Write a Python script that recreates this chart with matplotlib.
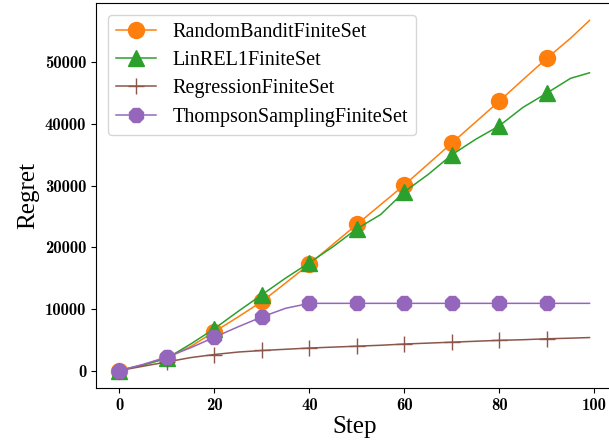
import matplotlib
matplotlib.use("Agg")
import matplotlib.pyplot as plt

# sampled steps (every 5, plus last step)
steps = [0, 5, 10, 15, 20, 25, 30, 35, 40, 45, 50, 55, 60, 65, 70, 75, 80, 85, 90, 95, 99]

random_bandit = [0, 900, 2000, 3900, 6300, 8700, 11200, 14200, 17260, 20500, 23700,
                 26900, 30100, 33500, 36900, 40300, 43700, 47200, 50650, 53900, 56800]
linrel = [0, 900, 2000, 4300, 6800, 9600, 12300, 15000, 17500, 20100, 23000,
          25300, 29000, 31800, 35000, 37500, 39700, 42700, 45000, 47400, 48300]
regression = [0, 700, 1400, 2100, 2600, 3000, 3250, 3450, 3650, 3800, 3950,
              4100, 4300, 4450, 4600, 4750, 4900, 5000, 5150, 5250, 5350]
thompson = [0, 1000, 2200, 3700, 5400, 7100, 8700, 10100, 10900, 10900, 10900,
            10900, 10900, 10900, 10900, 10900, 10900, 10900, 10900, 10900, 10900]

labels = ["RandomBanditFiniteSet", "LinREL1FiniteSet",
          "RegressionFiniteSet", "ThompsonSamplingFiniteSet"]

plt.rcParams["font.family"] = ["Liberation Serif", "DejaVu Serif"]

fig = plt.figure(figsize=(6.09, 4.45), dpi=100)
ax = fig.add_axes([0.1576, 0.128, 0.849, 0.8655])

every = slice(0, 20, 2)
ax.plot(steps, random_bandit, color="C1", lw=1.1, marker="o", ms=11.5,
        markevery=every, label=labels[0])
ax.plot(steps, linrel, color="C2", lw=1.1, marker="^", ms=11.5,
        markevery=every, label=labels[1])
ax.plot(steps, regression, color="C5", lw=1.1, marker="+", ms=11,
        markevery=every, label=labels[2])
ax.plot(steps, thompson, color="C4", lw=1.1, marker="8", ms=11,
        markevery=every, label=labels[3])

ax.set_xlabel("Step", fontsize=18, labelpad=2)
ax.set_ylabel("Regret", fontsize=18)
ax.set_xticks([0, 20, 40, 60, 80, 100])
ax.set_yticks([0, 10000, 20000, 30000, 40000, 50000])
for t in ax.get_xticklabels() + ax.get_yticklabels():
    t.set_fontfamily("cmb10")
    t.set_fontsize(12)

ax.legend(loc="upper left", fontsize=14.5, borderaxespad=0.6, labelspacing=0.45)

fig.savefig("out.png", dpi=100)
